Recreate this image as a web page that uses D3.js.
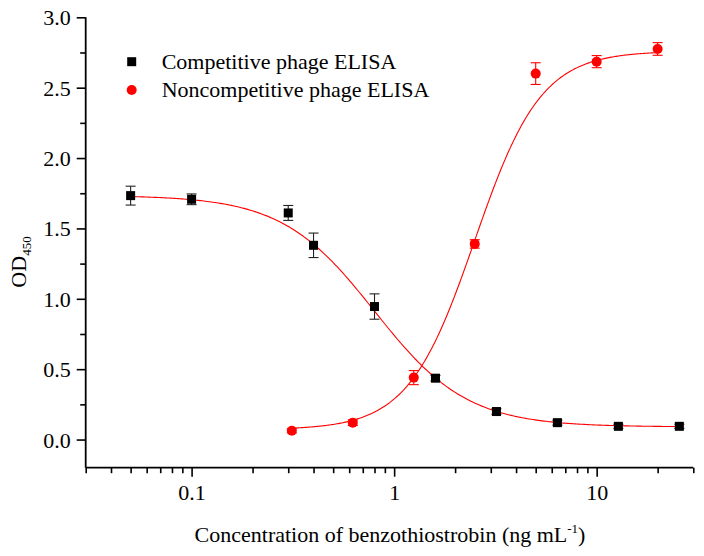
<!DOCTYPE html>
<html><head><meta charset="utf-8">
<script src="https://cdn.jsdelivr.net/npm/d3@7"></script>
<style>
html,body{margin:0;padding:0;background:#fff;}
svg text{font-family:"Liberation Serif","Times New Roman",serif;fill:#000;}
</style></head>
<body><svg id="c" width="704" height="556"></svg>
<script>
// ---- data ----
const compX   = [0.05, 0.1, 0.3, 0.4, 0.8, 1.6, 3.2, 6.4, 12.8, 25.6];
const compY   = [1.733, 1.707, 1.61, 1.38, 0.945, 0.436, 0.199, 0.12, 0.094, 0.094];
const compErr = [0.067, 0.038, 0.053, 0.087, 0.09, 0.02, 0.02, 0.018, 0.015, 0.015];
const nonX    = [0.3125, 0.625, 1.25, 2.5, 5, 10, 20];
const nonY    = [0.062, 0.12, 0.44, 1.39, 2.60, 2.685, 2.775];
const nonErr  = [0.015, 0.02, 0.05, 0.03, 0.077, 0.043, 0.045];
// fitted logistic parameters [A1, A2, x0, p]
const compFit = [1.735, 0.09, 0.8, 1.9];
const nonFit  = [0.07, 2.76, 2.5, 2.65];
const xMajor = [0.1, 1, 10];
const xMinor = [0.03,0.04,0.05,0.06,0.07,0.08,0.09,0.2,0.3,0.4,0.5,0.6,0.7,0.8,0.9,2,3,4,5,6,7,8,9,20,30];
const yMajor = [0, 0.5, 1.0, 1.5, 2.0, 2.5, 3.0];
const yMinor = [0.25, 0.75, 1.25, 1.75, 2.25, 2.75];
const legendLabels = ["Competitive phage ELISA", "Noncompetitive phage ELISA"];

const svg = d3.select("#c");
const x = d3.scaleLog().domain([0.03, 30]).range([85.7, 693.3]);
const y = d3.scaleLinear().domain([-0.2, 3.0]).range([467.7, 17.3]);
const RED = "#ff0000";
const FS = 22;

function logistic(par){ const [A1,A2,x0,p]=par; return v => A2 + (A1-A2)/(1+Math.pow(v/x0,p)); }
function curvePts(par, lo, hi){
  const f = logistic(par), pts=[]; const a=Math.log10(lo), b=Math.log10(hi);
  for(let i=0;i<=300;i++){ const v=Math.pow(10,a+(b-a)*i/300); pts.push([v,f(v)]); }
  return pts;
}
const line = d3.line().x(d=>x(d[0])).y(d=>y(d[1]));

// axes
const gx = svg.append("g").attr("transform","translate(0,467.7)");
gx.call(d3.axisBottom(x).tickValues(xMajor).tickSize(9).tickFormat(d=>d3.format("")(d)));
const gxm = svg.append("g").attr("transform","translate(0,467.7)");
gxm.call(d3.axisBottom(x).tickValues(xMinor).tickSize(5.5).tickFormat(""));
const gy = svg.append("g").attr("transform","translate(85.7,0)");
gy.call(d3.axisLeft(y).tickValues(yMajor).tickSize(9).tickFormat(d3.format(".1f")));
const gym = svg.append("g").attr("transform","translate(85.7,0)");
gym.call(d3.axisLeft(y).tickValues(yMinor).tickSize(5.5).tickFormat(""));
[gx,gxm,gy,gym].forEach(g=>{
  g.select(".domain").remove();
  g.selectAll("line").attr("stroke","#000").attr("stroke-width",1.6);
  g.selectAll("text").attr("font-size",FS).attr("font-family","Liberation Serif, Times New Roman, serif");
});
svg.append("line").attr("x1",x(0.03)).attr("x2",x(30)).attr("y1",467.7).attr("y2",467.7).attr("stroke","#000").attr("stroke-width",1.8);
svg.append("line").attr("x1",85.7).attr("x2",85.7).attr("y1",y(3.0)).attr("y2",467.7).attr("stroke","#000").attr("stroke-width",1.8);
gx.selectAll("text").attr("dy","1.0em").attr("y",10);
gy.selectAll("text").attr("x",-15).attr("dy","0.34em");

// curves
svg.append("path").attr("d",line(curvePts(compFit, compX[0], compX[compX.length-1])))
  .attr("fill","none").attr("stroke",RED).attr("stroke-width",1.1);
svg.append("path").attr("d",line(curvePts(nonFit, nonX[0], nonX[nonX.length-1])))
  .attr("fill","none").attr("stroke",RED).attr("stroke-width",1.1);

// error bars
function errBars(xs, ys, es, color){
  const g = svg.append("g").attr("stroke",color).attr("stroke-width",1.1);
  xs.forEach((v,i)=>{
    const cx=x(v), t=y(ys[i]+es[i]), b=y(ys[i]-es[i]);
    g.append("line").attr("x1",cx).attr("x2",cx).attr("y1",t).attr("y2",b);
    g.append("line").attr("x1",cx-5).attr("x2",cx+5).attr("y1",t).attr("y2",t);
    g.append("line").attr("x1",cx-5).attr("x2",cx+5).attr("y1",b).attr("y2",b);
  });
}
errBars(compX, compY, compErr, "#222");
errBars(nonX, nonY, nonErr, RED);

// markers
svg.append("g").selectAll("rect").data(compX).join("rect")
  .attr("x",(d)=>x(d)-4.5).attr("y",(d,i)=>y(compY[i])-4.5).attr("width",9).attr("height",9).attr("fill","#000");
svg.append("g").selectAll("circle").data(nonX).join("circle")
  .attr("cx",d=>x(d)).attr("cy",(d,i)=>y(nonY[i])).attr("r",5).attr("fill",RED);

// legend
svg.append("rect").attr("x",131.7-4.5).attr("y",61.7-4.5).attr("width",9).attr("height",9).attr("fill","#000");
svg.append("circle").attr("cx",131.7).attr("cy",90).attr("r",5).attr("fill",RED);
svg.append("text").attr("x",161.7).attr("y",68.5).attr("font-size",FS).text(legendLabels[0]);
svg.append("text").attr("x",161.7).attr("y",96.7).attr("font-size",FS).text(legendLabels[1]);

// axis titles
const xt = svg.append("text").attr("x",390).attr("y",541.7).attr("text-anchor","middle").attr("font-size",FS);
xt.append("tspan").text("Concentration of benzothiostrobin (ng mL");
xt.append("tspan").attr("font-size",13).attr("dy",-9).text("-1");
xt.append("tspan").attr("dy",9).text(")");
const yt = svg.append("text").attr("transform","translate(26,262) rotate(-90)").attr("text-anchor","middle").attr("font-size",FS);
yt.append("tspan").text("OD");
yt.append("tspan").attr("font-size",13).attr("dy",5).text("450");
</script></body></html>
